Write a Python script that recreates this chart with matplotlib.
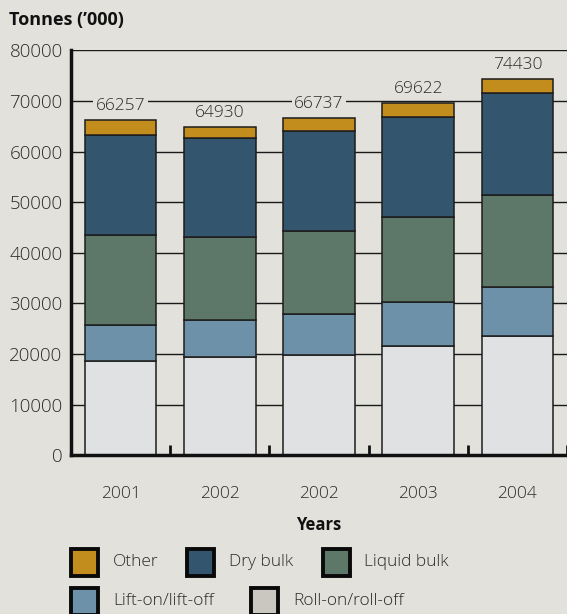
import matplotlib
matplotlib.use("Agg")
import matplotlib.pyplot as plt
from matplotlib.patches import Rectangle
import numpy as np

# Data (thousand tonnes)
years = ["2001", "2002", "2002", "2003", "2004"]
roll_on = [18700, 19370, 19820, 21600, 23520]
lift_on = [7110, 7370, 8160, 8760, 9800]
liquid_bulk = [17730, 16460, 16340, 16680, 18120]
dry_bulk = [19800, 19450, 19820, 19760, 20100]
other = [2917, 2280, 2597, 2822, 2890]

series_names = ["Roll-on/roll-off", "Lift-on/lift-off", "Liquid bulk", "Dry bulk", "Other"]
series_values = [roll_on, lift_on, liquid_bulk, dry_bulk, other]
bar_colors = ["#E0E1E3", "#6C91A9", "#5D7868", "#33566E", "#C38D1D"]
legend_colors = {"Other": "#C38D1D", "Dry bulk": "#33566E", "Liquid bulk": "#5D7868",
                 "Lift-on/lift-off": "#6C91A9", "Roll-on/roll-off": "#CAC6C0"}
y_ticks = [0, 10000, 20000, 30000, 40000, 50000, 60000, 70000, 80000]

BG = "#E2E1DC"
TXT = "#2b2b2b"
FONT = ["Open Sans", "DejaVu Sans"]

plt.rcParams["font.family"] = FONT

fig = plt.figure(figsize=(5.67, 6.14), dpi=100, facecolor=BG)
ax = fig.add_axes([71 / 567, 158.7 / 614, 1 - 71 / 567, 404.9 / 614])
ax.set_facecolor(BG)

x = np.arange(len(years))
bottom = np.zeros(len(years))
for vals, col in zip(series_values, bar_colors):
    ax.bar(x, vals, width=0.72, bottom=bottom, color=col, edgecolor="#1c1c1c",
           linewidth=1.1, zorder=3)
    bottom += np.array(vals)

totals = bottom
for xi, tot in zip(x, totals):
    ax.annotate(f"{int(round(tot))}", (xi, tot), xytext=(0, 4), textcoords="offset points",
                ha="center", va="bottom", fontsize=12.5, color=TXT, fontweight="light",
                zorder=4,
                bbox=dict(boxstyle="square,pad=0.15", facecolor=BG, edgecolor="none"))

ax.set_xlim(-0.5, 4.5)
ax.set_ylim(0, 80000)
ax.set_yticks(y_ticks)
ax.set_yticklabels([str(v) for v in y_ticks], fontsize=13.5, color=TXT, fontweight="light")
ax.tick_params(axis="y", length=0, pad=6)
ax.yaxis.grid(True, color="#1a1a1a", linewidth=1.0, zorder=0)
ax.set_axisbelow(True)

ax.set_xticks(x)
ax.set_xticklabels(years, fontsize=12.5, color=TXT, fontweight="light")
ax.tick_params(axis="x", which="major", length=0, pad=22)
ax.set_xticks(x + 0.5, minor=True)
ax.tick_params(axis="x", which="minor", direction="in", length=7, width=2, color="#111111")

for s in ["top", "right"]:
    ax.spines[s].set_visible(False)
ax.spines["left"].set_linewidth(2.5)
ax.spines["bottom"].set_linewidth(2.5)
ax.spines["left"].set_color("#111111")
ax.spines["bottom"].set_color("#111111")
ax.spines["bottom"].set_zorder(5)

fig.text(9 / 567, 1 - 20 / 614, "Tonnes (\u2019000)", fontsize=13, fontweight="bold",
         ha="left", va="center", color="#111111")
fig.text(319 / 567, 1 - 525 / 614, "Years", fontsize=12, fontweight="bold",
         ha="center", va="center", color="#111111")

# Legend swatches and labels
legend_items = [
    ("Other", 71, 562),
    ("Dry bulk", 187, 562),
    ("Liquid bulk", 322.5, 562),
    ("Lift-on/lift-off", 71, 601),
    ("Roll-on/roll-off", 251, 601),
]
W, H = 567, 614
for name, px, py in legend_items:
    sw = 27
    fig.patches.append(Rectangle((px / W, (H - py - sw / 2) / H), sw / W, sw / H,
                                 transform=fig.transFigure, facecolor=legend_colors[name],
                                 edgecolor="#0a0a0a", linewidth=2.8))
    fig.text((px + 42) / W, (H - py) / H, name, fontsize=12.5, color=TXT,
             fontweight="light", ha="left", va="center")

fig.savefig("out.png", dpi=100, facecolor=BG)
